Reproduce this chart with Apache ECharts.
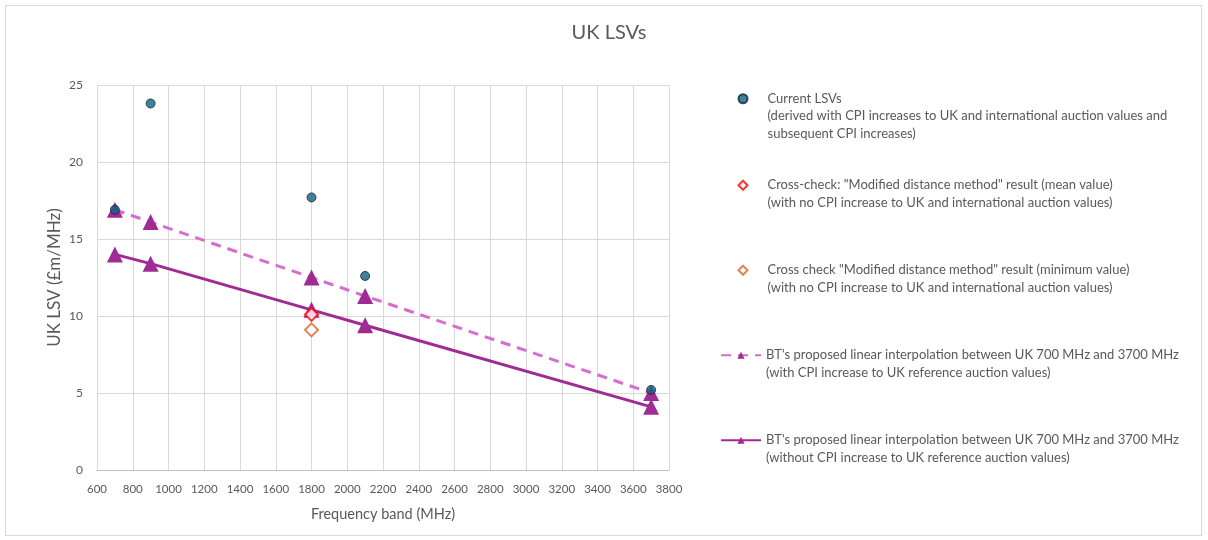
<!DOCTYPE html>
<html>
<head>
<meta charset="utf-8">
<script src="https://cdn.jsdelivr.net/npm/echarts@6/dist/echarts.min.js"></script>
<style>
  html, body { margin: 0; padding: 0; background: #fff; }
  #frame { position: absolute; left: 5px; top: 5px; width: 1197px; height: 531px; box-sizing: border-box; border: 1px solid #d9d9d9; }
  #myChart { position: absolute; left: 0; top: 0; width: 1208px; height: 540px; }
</style>
</head>
<body>
<div id="frame"></div>
<div id="myChart"></div>
<script>
// values
var currentBands = [700, 900, 1800, 2100, 3700];
var currentLsv = [16.9, 23.8, 17.7, 12.6, 5.2];
var crossBands = [1800];
var crossMean = [10.1];
var crossMin = [9.1];
var btBands = [700, 900, 1800, 2100, 3700];
var btWithCpi = [16.9, 16.1, 12.5, 11.3, 5.0];
var btWithoutCpi = [14.0, 13.4, 10.4, 9.4, 4.1];

var names = [
  'Current LSVs\n(derived with CPI increases to UK and international auction values and\nsubsequent CPI increases)',
  'Cross-check: "Modified distance method" result (mean value)\n(with no CPI increase to UK and international auction values)',
  'Cross check "Modified distance method" result (minimum value)\n(with no CPI increase to UK and international auction values)',
  'BT\'s proposed linear interpolation between UK 700 MHz and 3700 MHz\n(with CPI increase to UK reference auction values)',
  'BT\'s proposed linear interpolation between UK 700 MHz and 3700 MHz\n(without CPI increase to UK reference auction values)'
];
var legendIcons = ['circle', 'diamond', 'diamond', null, null];

function pairs(xs, ys) {
  var out = [];
  for (var i = 0; i < xs.length; i++) { out.push([xs[i], ys[i]]); }
  return out;
}

var grey = '#595959';
var font = 'Lato, "Liberation Sans", sans-serif';
var LH = 17.5;

// one legend per entry; blank lines in front keep the icon beside the first text line
var legendTops = [55, 159, 244, 329, 414];
var legends = [];
for (var k = 0; k < names.length; k++) {
  (function (k) {
    var lines = names[k].split('\n').length;
    var marker = !!legendIcons[k];
    var item = { name: names[k] };
    if (marker) { item.icon = legendIcons[k]; }
    legends.push({
      left: marker ? 737.5 : 720,
      top: legendTops[k],
      padding: 0,
      itemWidth: marker ? 9 : 40,
      itemHeight: 9,
      selectedMode: false,
      data: [item],
      formatter: function (name) {
        return new Array(lines).join('\n') + name;
      },
      textStyle: {
        color: grey, fontFamily: font, fontSize: 13, lineHeight: LH,
        padding: [0, 0, 0, marker ? 15 : 0]
      }
    });
  })(k);
}

var myChart = echarts.init(document.getElementById('myChart'));
var option = {
  animation: false,
  title: {
    text: 'UK LSVs',
    left: 604,
    textAlign: 'center',
    top: 18,
    textStyle: { color: grey, fontFamily: font, fontSize: 20, fontWeight: 'normal' }
  },
  legend: legends,
  grid: { left: 97, right: 539, top: 85, bottom: 70 },
  xAxis: {
    type: 'value',
    min: 600,
    max: 3800,
    interval: 200,
    name: 'Frequency band (MHz)',
    nameLocation: 'middle',
    nameGap: 37,
    nameTextStyle: { color: grey, fontFamily: font, fontSize: 14.5 },
    axisLine: { lineStyle: { color: '#bfbfbf' } },
    axisTick: { show: false },
    axisLabel: {
      color: grey, fontFamily: font, fontSize: 11.5, margin: 13,
      formatter: function (v) { return String(v); }
    },
    splitLine: { show: true, lineStyle: { color: '#d9d9d9' } }
  },
  yAxis: {
    type: 'value',
    min: 0,
    max: 25,
    interval: 5,
    name: 'UK LSV (£m/MHz)',
    nameLocation: 'middle',
    nameGap: 34,
    nameTextStyle: { color: grey, fontFamily: font, fontSize: 17 },
    axisLine: { show: false },
    axisTick: { show: false },
    axisLabel: { color: grey, fontFamily: font, fontSize: 12, margin: 14 },
    splitLine: { show: true, lineStyle: { color: '#d9d9d9' } }
  },
  series: [
    {
      name: names[3],
      type: 'line',
      data: pairs(btBands, btWithCpi),
      symbol: 'triangle',
      symbolSize: 16,
      z: 2,
      itemStyle: { color: '#a02b93' },
      lineStyle: { color: '#d86ecc', width: 3, type: [10, 7] }
    },
    {
      name: names[4],
      type: 'line',
      data: pairs(btBands, btWithoutCpi),
      symbol: 'triangle',
      symbolSize: 16,
      z: 3,
      itemStyle: { color: '#a02b93' },
      lineStyle: { color: '#a02b93', width: 3 }
    },
    {
      name: names[1],
      type: 'scatter',
      data: pairs(crossBands, crossMean),
      symbol: 'diamond',
      symbolSize: 13,
      z: 4,
      itemStyle: { color: '#ffffff', borderColor: '#ff0000', borderWidth: 2 }
    },
    {
      name: names[2],
      type: 'scatter',
      data: pairs(crossBands, crossMin),
      symbol: 'diamond',
      symbolSize: 13,
      z: 4,
      itemStyle: { color: '#ffffff', borderColor: '#d8652b', borderWidth: 2 }
    },
    {
      name: names[0],
      type: 'scatter',
      data: pairs(currentBands, currentLsv),
      symbol: 'circle',
      symbolSize: 9,
      z: 5,
      itemStyle: { color: '#156082', borderColor: '#10283a', borderWidth: 1 }
    }
  ]
};
myChart.setOption(option);
</script>
</body>
</html>
